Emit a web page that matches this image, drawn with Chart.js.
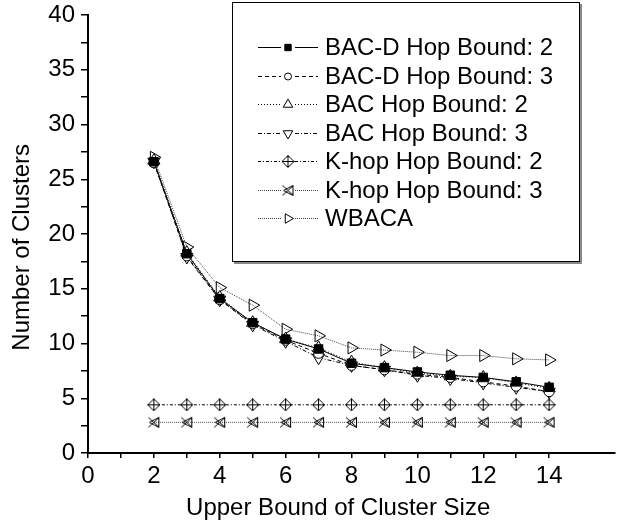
<!DOCTYPE html>
<html>
<head>
<meta charset="utf-8">
<script src="https://cdn.jsdelivr.net/npm/chart.js@4.4.1/dist/chart.umd.min.js"></script>
<style>
  html, body { margin: 0; padding: 0; background: #fff; }
</style>
</head>
<body>
<canvas id="myChart" width="623" height="525"></canvas>
<script>
// values
var clusterSize = [2, 3, 4, 5, 6, 7, 8, 9, 10, 11, 12, 13, 14];
var bacD2 = [26.6, 18.2, 14.1, 11.9, 10.4, 9.5, 8.2, 7.8, 7.4, 7.1, 6.9, 6.5, 6.0];
var bacD3 = [26.5, 18.0, 14.0, 11.8, 10.3, 9.1, 8.0, 7.6, 7.2, 6.9, 6.5, 6.1, 5.6];
var bac2 = [26.7, 18.3, 14.2, 11.9, 10.4, 9.6, 8.3, 7.8, 7.3, 7.0, 6.9, 6.4, 5.9];
var bac3 = [26.6, 17.9, 14.0, 11.7, 10.2, 8.7, 8.0, 7.6, 7.1, 6.8, 6.4, 6.0, 5.6];
var khop2 = [4.4, 4.4, 4.4, 4.4, 4.4, 4.4, 4.4, 4.4, 4.4, 4.4, 4.4, 4.4, 4.4];
var khop3 = [2.8, 2.8, 2.8, 2.8, 2.8, 2.8, 2.8, 2.8, 2.8, 2.8, 2.8, 2.8, 2.8];
var wbaca = [27.0, 18.8, 15.1, 13.5, 11.3, 10.7, 9.6, 9.4, 9.2, 8.9, 8.9, 8.6, 8.5];

var seriesNames = ['BAC-D Hop Bound: 2', 'BAC-D Hop Bound: 3', 'BAC Hop Bound: 2',
  'BAC Hop Bound: 3', 'K-hop Hop Bound: 2', 'K-hop Hop Bound: 3', 'WBACA'];

function pts(arr) {
  return arr.map(function(v, i) { return { x: clusterSize[i], y: v }; });
}

function makeMarker(draw) {
  var c = document.createElement('canvas');
  c.width = 13; c.height = 13;
  var g = c.getContext('2d');
  g.strokeStyle = '#000';
  g.lineWidth = 1;
  draw(g);
  return c;
}

// diamond with a cross
var diamondCross = makeMarker(function(g) {
  g.fillStyle = '#fff';
  g.beginPath();
  g.moveTo(6.5, 0.5); g.lineTo(12.5, 6.5); g.lineTo(6.5, 12.5); g.lineTo(0.5, 6.5); g.closePath();
  g.fill(); g.stroke();
  g.beginPath();
  g.moveTo(6.5, 0.5); g.lineTo(6.5, 12.5);
  g.moveTo(0.5, 6.5); g.lineTo(12.5, 6.5);
  g.stroke();
});

// x with a bar
var barX = makeMarker(function(g) {
  g.beginPath();
  g.moveTo(1, 1.5); g.lineTo(12, 11.5);
  g.moveTo(1, 11.5); g.lineTo(12, 1.5);
  g.moveTo(11.5, 1.5); g.lineTo(11.5, 11.5);
  g.moveTo(11.5, 1.5); g.lineTo(2, 6.5); g.lineTo(11.5, 11.5);
  g.stroke();
});

var datasets = [
  { label: seriesNames[0], data: pts(bacD2), borderDash: [], pointStyle: 'rect', pointRadius: 6, pointBackgroundColor: '#000' },
  { label: seriesNames[1], data: pts(bacD3), borderDash: [4, 3], pointStyle: 'circle', pointRadius: 5, pointBackgroundColor: '#fff' },
  { label: seriesNames[2], data: pts(bac2), borderDash: [1, 2], pointStyle: 'triangle', pointRadius: 7, pointBackgroundColor: '#fff' },
  { label: seriesNames[3], data: pts(bac3), borderDash: [4, 2, 1, 2], pointStyle: 'triangle', pointRotation: 180, pointRadius: 7, pointBackgroundColor: '#fff' },
  { label: seriesNames[4], data: pts(khop2), borderDash: [3, 2, 1, 2], pointStyle: diamondCross, pointRadius: 6 },
  { label: seriesNames[5], data: pts(khop3), borderDash: [1, 1], pointStyle: barX, pointRadius: 6, borderColor: '#444' },
  { label: seriesNames[6], data: pts(wbaca), borderDash: [1, 1], pointStyle: 'triangle', pointRotation: 90, pointRadius: 7, pointBackgroundColor: 'rgba(0,0,0,0)', borderColor: '#444' }
];
datasets.forEach(function(d) {
  if (!d.borderColor) d.borderColor = '#000';
  d.pointBorderColor = '#000';
  d.pointBorderWidth = 1;
  d.borderWidth = 1;
  d.tension = 0;
  d.fill = false;
});

// boxed legend drawn inside the plot, like the original figure
var boxLegend = {
  id: 'boxLegend',
  afterDraw: function(chart) {
    var ctx = chart.ctx;
    ctx.save();
    ctx.fillStyle = '#888';
    ctx.fillRect(234, 4, 348, 260);
    ctx.fillStyle = '#fff';
    ctx.fillRect(232, 2, 348, 260);
    ctx.strokeStyle = '#000';
    ctx.lineWidth = 1;
    ctx.strokeRect(232.5, 2.5, 347, 259);
    ctx.font = '24px "Liberation Sans", Arial, sans-serif';
    ctx.textBaseline = 'middle';
    chart.data.datasets.forEach(function(d, i) {
      var y = Math.round(47 + i * 28.5) + 0.5;
      ctx.strokeStyle = d.borderColor;
      ctx.setLineDash(d.borderDash);
      ctx.beginPath();
      ctx.moveTo(258, y); ctx.lineTo(281, y);
      ctx.moveTo(295, y); ctx.lineTo(318, y);
      ctx.stroke();
      ctx.setLineDash([]);
      ctx.strokeStyle = '#000';
      ctx.fillStyle = d.pointBackgroundColor || '#fff';
      Chart.helpers.drawPoint(ctx, {
        pointStyle: d.pointStyle, radius: d.pointRadius - 1.5,
        rotation: d.pointRotation || 0, borderWidth: 1
      }, 288, y);
      ctx.fillStyle = '#000';
      ctx.fillText(d.label, 325, y + 1);
    });
    ctx.restore();
  }
};

Chart.defaults.font.family = '"Liberation Sans", Arial, sans-serif';
Chart.defaults.color = '#000';

var ctx = document.getElementById('myChart').getContext('2d');
var myChart = new Chart(ctx, {
  type: 'line',
  data: { datasets: datasets },
  options: {
    responsive: false,
    animation: false,
    layout: { padding: { top: 15, right: 2, left: 0, bottom: 0 } },
    plugins: { legend: { display: false }, tooltip: { enabled: false } },
    scales: {
      x: {
        type: 'linear', min: 0, max: 16,
        ticks: {
          stepSize: 1, autoSkip: false, maxRotation: 0, padding: 4,
          font: { size: 24 },
          callback: function(v) { return (v % 2 === 0 && v <= 14) ? v : ''; }
        },
        grid: {
          drawOnChartArea: false, tickLength: 5, lineWidth: 1.5,
          tickColor: function(c) { return (c.tick && c.tick.value > 14) ? 'rgba(0,0,0,0)' : '#000'; }
        },
        border: { display: true, color: '#000', width: 2 },
        title: { display: true, text: 'Upper Bound of Cluster Size    ', font: { size: 24 }, padding: { top: 0, bottom: 2 } },
        afterFit: function(s) { s.height = 72; s.paddingLeft = 0; s.paddingRight = 0; }
      },
      y: {
        min: 0, max: 40,
        ticks: {
          stepSize: 2.5, autoSkip: false, padding: 6,
          font: { size: 24 },
          callback: function(v) { return v % 5 === 0 ? v : ''; }
        },
        grid: { drawOnChartArea: false, tickLength: 7, lineWidth: 1.5, tickColor: '#000' },
        border: { display: true, color: '#000', width: 2 },
        title: { display: true, text: 'Number of Clusters    ', font: { size: 24 }, padding: { top: 8, bottom: 0 } },
        afterFit: function(s) { s.width = 88; s.paddingTop = 0; s.paddingBottom = 0; }
      }
    }
  },
  plugins: [boxLegend]
});
</script>
</body>
</html>
